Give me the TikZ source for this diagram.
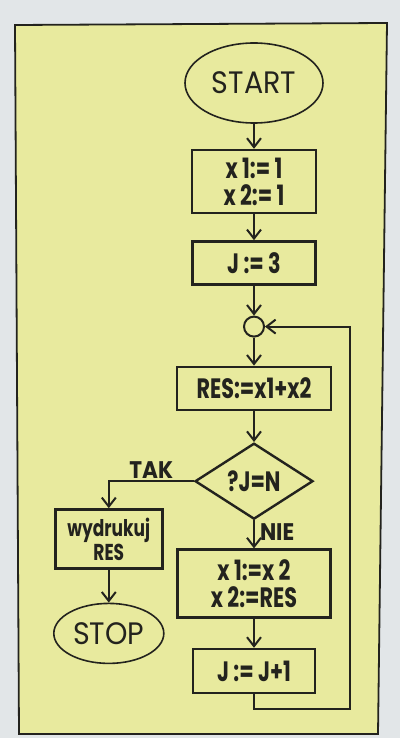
\documentclass[tikz,border=0pt]{standalone}
\usepackage{fontspec}
\setmainfont{Poppins}
\newfontfamily\boxfont[FakeStretch=0.74]{Poppins}
\newfontfamily\termfont[FakeStretch=0.92]{Poppins}
\newfontfamily\lblfont[FakeStretch=0.9]{Poppins}
\usetikzlibrary{arrows.meta, positioning, shapes.geometric}
\definecolor{flowpaper}{RGB}{232, 234, 158}
\definecolor{flowwall}{RGB}{226, 230, 232}
\definecolor{flowink}{RGB}{35, 35, 30}

\begin{document}
\begin{tikzpicture}[
  x=1pt, y=1pt,
  box/.style={rectangle, draw=flowink, line width=2.4pt, minimum height=45pt, align=center, inner sep=2pt, text=flowink, font=\boxfont\fontsize{28}{27}\selectfont\bfseries},
  term/.style={ellipse, draw=flowink, line width=1.6pt, inner sep=0pt, text=flowink, font=\termfont\fontsize{31}{34}\selectfont},
  test/.style={diamond, draw=flowink, line width=2.4pt, aspect=1.55, inner sep=0pt, minimum width=118pt, minimum height=76pt, text=flowink, font=\boxfont\fontsize{28}{30}\selectfont\bfseries},
  joint/.style={circle, draw=flowink, line width=2pt, minimum size=20pt, inner sep=0pt},
  arr/.style={-{Straight Barb[length=9pt, width=14pt]}, color=flowink, line width=2pt},
  lbl/.style={text=flowink, inner sep=2pt, font=\lblfont\fontsize{24}{26}\selectfont\bfseries}
]
\useasboundingbox (0,0) rectangle (400,-738);
\fill[flowwall] (0,0) rectangle (400,-738);
\filldraw[fill=flowpaper, draw=flowink, line width=1.8pt] (15,-25) -- (387,-23) -- (378,-734) -- (19,-734) -- cycle;

\node[term, minimum width=138pt, minimum height=80pt] (start) at (254,-83) {START};
\node[box, below=25pt of start, minimum width=124pt, minimum height=63pt] (init) {x 1:= 1\\x 2:= 1};
\node[box, below=26pt of init, minimum width=123pt, minimum height=43pt] (jset) {J := 3};
\node[joint, below=30pt of jset] (join) {};
\node[box, below=28pt of join, minimum width=154pt, minimum height=43pt] (res) {RES:=x1+x2};
\node[test, below=31pt of res] (dec) {?J=N};
\node[box, below=28pt of dec, minimum width=153pt, minimum height=68pt] (upd) {x 1:=x 2\\x 2:=RES};
\node[box, below=29pt of upd, minimum width=122pt, minimum height=44pt] (inc) {J := J+1};

\coordinate[left=85pt of dec.west] (yes);
\node[box, below=27pt of yes, minimum width=107pt, minimum height=59pt, font=\boxfont\fontsize{23}{24}\selectfont\bfseries] (print) {wydrukuj\\RES};
\node[term, below=33pt of print, minimum width=110pt, minimum height=60pt] (stop) {STOP};

\draw[arr] (start) -- (init);
\draw[arr] (init) -- (jset);
\draw[arr] (jset) -- (join);
\draw[arr] (join) -- (res);
\draw[arr] (res) -- (dec);
\draw[arr] (dec) -- node[lbl, right=3pt, pos=0.4] {NIE} (upd);
\draw[arr] (upd) -- (inc);
\draw[arr] (inc.south) |- ++(96pt,-15pt) |- (join.east);

\draw[arr] (dec.west) -- node[lbl, above=0pt] {TAK} (yes) -- (print);
\draw[arr] (print) -- (stop);

\end{tikzpicture}
\end{document}
